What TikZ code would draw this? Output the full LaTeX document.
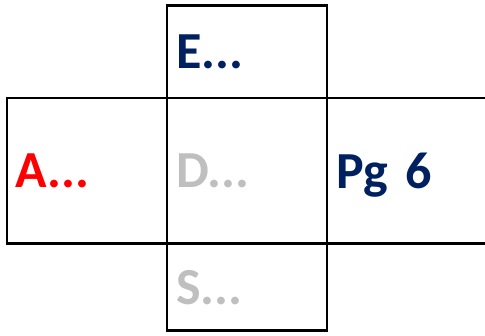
\documentclass[tikz,border=0pt]{standalone}
\usepackage{fontspec}
\setmainfont{Carlito}
\usepackage{tikz}
\usetikzlibrary{positioning}

\definecolor{pgblue}{RGB}{0,32,96}
\definecolor{pgred}{RGB}{255,0,0}
\definecolor{pggrey}{RGB}{191,191,191}

\tikzset{
  cell/.style={draw, line width=2.7pt, outer sep=0pt, inner xsep=9pt,
    text width=142pt, align=left, text depth=0pt,
    font=\fontsize{52}{52}\selectfont\bfseries},
  midcell/.style={cell, minimum height=145.7pt}
}

\begin{document}
\begin{tikzpicture}[x=1pt, y=-1pt, node distance=0pt]
\useasboundingbox (0,0) rectangle (485,335);

% middle row
\node[midcell, text=pggrey] (d) at (247,170.85) {D...};
\node[midcell, text=pgred, left=of d] (a) {A...};
\node[midcell, text=pgblue, right=of d] (pg) {Pg 6};

% column above and below
\node[cell, text=pgblue, minimum height=92.7pt, above=of d] (e) {E...};
\node[cell, text=pggrey, minimum height=86.6pt, below=of d] (s) {S...};
\end{tikzpicture}
\end{document}
